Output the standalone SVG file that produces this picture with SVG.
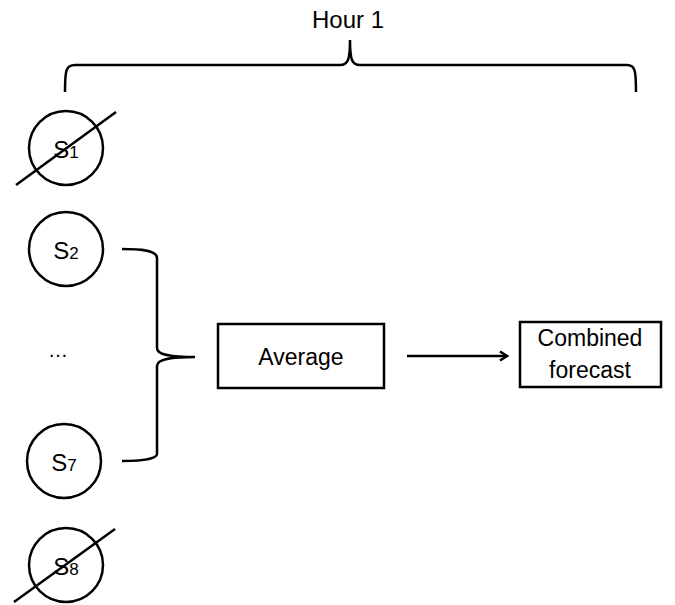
<svg xmlns="http://www.w3.org/2000/svg" width="675" height="605" viewBox="0 0 675 605">
  <defs>
    <style>
      .lbl { font-family: "Liberation Sans", Arial, sans-serif; fill: #000; }
      .node circle, .node rect { fill: #fff; stroke: #000; stroke-width: 2.5; }
      .strike { stroke: #000; stroke-width: 2.5; }
      .conn { fill: none; stroke: #000; stroke-width: 2.5; }
    </style>
    <marker id="arrow" viewBox="0 0 12 12" refX="10" refY="6" markerWidth="12" markerHeight="12" orient="auto" markerUnits="userSpaceOnUse">
      <path d="M3,1.5 L10,6 L3,10.5" fill="none" stroke="#000" stroke-width="2.5"/>
    </marker>
  </defs>
  <rect width="675" height="605" fill="#fff"/>

  <!-- title brace -->
  <g id="hour1">
    <text class="lbl" x="348" y="28" font-size="24" text-anchor="middle">Hour 1</text>
  </g>

  <!-- sources -->
  <g id="s1" class="node">
    <circle cx="66" cy="148" r="37"/>
    <text class="lbl" x="66" y="158" font-size="24" text-anchor="middle">S<tspan font-size="17">1</tspan></text>
    <line class="strike" x1="16" y1="185" x2="116" y2="112"/>
  </g>
  <g id="s2" class="node">
    <circle cx="66" cy="249" r="37"/>
    <text class="lbl" x="66" y="259" font-size="24" text-anchor="middle">S<tspan font-size="17">2</tspan></text>
  </g>
  <g id="ellipsis">
    <text class="lbl" x="58" y="357" font-size="20" text-anchor="middle">…</text>
  </g>
  <g id="s7" class="node">
    <circle cx="64" cy="461" r="37"/>
    <text class="lbl" x="64" y="471" font-size="24" text-anchor="middle">S<tspan font-size="17">7</tspan></text>
  </g>
  <g id="s8" class="node">
    <circle cx="66" cy="565" r="37"/>
    <text class="lbl" x="66" y="575" font-size="24" text-anchor="middle">S<tspan font-size="17">8</tspan></text>
    <line class="strike" x1="14" y1="602" x2="115" y2="529"/>
  </g>

  <!-- processing -->
  <g id="average" class="node">
    <rect x="218" y="324" width="166" height="64"/>
    <text class="lbl" x="301" y="365" font-size="23" text-anchor="middle">Average</text>
  </g>
  <g id="combined" class="node">
    <rect x="520" y="322" width="141" height="65"/>
    <text class="lbl" x="590" y="346" font-size="23" text-anchor="middle">Combined</text>
    <text class="lbl" x="590" y="378" font-size="23" text-anchor="middle">forecast</text>
  </g>

  <!-- connectors -->
  <g id="connectors">
    <path class="conn" d="M65,92 C65,70 66,65 75,65 L340,65 C348,65 350,60 350,40 C350,60 352,65 360,65 L627,65 C635,65 636,70 636,92"/>
    <path class="conn" d="M122,249 C140,249 157,250 157,258 L157,348 C157,355 170,357 195,357 C170,357 157,359 157,366 L157,454 C157,459 140,461 122,461"/>
    <line class="conn" x1="407" y1="356" x2="507" y2="356" marker-end="url(#arrow)"/>
  </g>
</svg>
